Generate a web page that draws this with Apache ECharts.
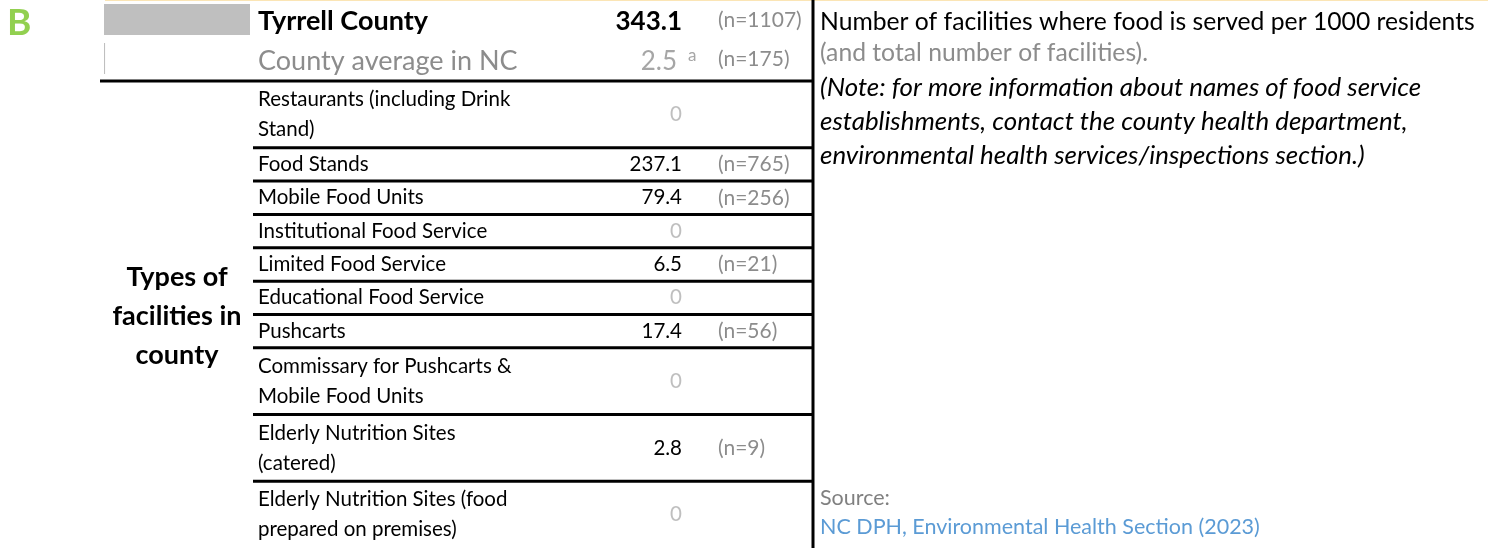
<!DOCTYPE html>
<html>
<head>
<meta charset="utf-8">
<script src="https://cdn.jsdelivr.net/npm/echarts@6/dist/echarts.min.js"></script>
<style>
html,body{margin:0;padding:0;background:#fff;}
#chart{width:1488px;height:548px;}
</style>
</head>
<body>
<div id="chart"></div>
<script>
// 顶部两行：县值 与 全州县平均
var summaryNames = ['Tyrrell County', 'County average in NC'];
var summaryRates = [343.1, 2.5];
var summaryCounts = [1107, 175];

// 设施类型
var typeNames = [
	'Restaurants (including Drink Stand)',
	'Food Stands',
	'Mobile Food Units',
	'Institutional Food Service',
	'Limited Food Service',
	'Educational Food Service',
	'Pushcarts',
	'Commissary for Pushcarts & Mobile Food Units',
	'Elderly Nutrition Sites (catered)',
	'Elderly Nutrition Sites (food prepared on premises)'
];
var typeRates = [0, 237.1, 79.4, 0, 6.5, 0, 17.4, 0, 2.8, 0];
var typeCounts = [null, 765, 256, null, 21, null, 56, null, 9, null];

var FONT = 'Lato, "Noto Sans", sans-serif';
var colLabel = 258, colRate = 682, colCount = 718;
var tableLeft = 253, tableRight = 813;
var typeLines = [2, 1, 1, 1, 1, 1, 1, 2, 2, 2];//每行所占行数

var myChart = echarts.init(document.getElementById('chart'));

var rowData = [];
var acc = 0;
for (var i = 0; i < typeNames.length; i++) {
	rowData.push([acc, acc + typeLines[i], i]);
	acc += typeLines[i];
}

function summaryItem(params, api) {
	var idx = api.value(1);
	var y = api.coord([0, idx])[1];
	var kids = [];
	if (idx === 0) {
		kids.push({type: 'text', style: {x: colLabel, y: y + 2, text: summaryNames[idx], font: 'bold 27px ' + FONT, fill: '#000', verticalAlign: 'middle'}});
		kids.push({type: 'text', style: {x: colRate, y: y + 2, text: summaryRates[idx].toFixed(1), font: 'bold 26px ' + FONT, fill: '#000', align: 'right', verticalAlign: 'middle'}});
	} else {
		kids.push({type: 'text', style: {x: colLabel, y: y + 3, text: summaryNames[idx], font: '27px ' + FONT, fill: '#8c8c8c', verticalAlign: 'middle'}});
		kids.push({type: 'text', style: {x: colRate - 5, y: y + 3, text: summaryRates[idx].toFixed(1), font: '26px ' + FONT, fill: '#a6a6a6', align: 'right', verticalAlign: 'middle'}});
		kids.push({type: 'text', style: {x: 688, y: y - 3, text: 'a', font: '17px ' + FONT, fill: '#a6a6a6', verticalAlign: 'middle'}});
	}
	kids.push({type: 'text', style: {x: colCount, y: y + 1, text: '(n=' + summaryCounts[idx] + ')', font: '21px ' + FONT, fill: '#8c8c8c', verticalAlign: 'middle'}});
	return {type: 'group', children: kids};
}

function tableItem(params, api) {
	var y0 = api.coord([0, api.value(0)])[1];
	var y1 = api.coord([0, api.value(1)])[1];
	var idx = api.value(2);
	var cy = (y0 + y1) / 2;
	var rate = typeRates[idx];
	var kids = [
		{type: 'line', shape: {x1: idx === 0 ? 100 : tableLeft, y1: y0, x2: tableRight, y2: y0}, style: {stroke: '#000', lineWidth: 3}},
		{type: 'text', style: {x: colLabel, y: cy, text: typeNames[idx], width: 268, overflow: 'break', lineHeight: 30, font: '20.5px ' + FONT, fill: '#000', verticalAlign: 'middle'}},
		{type: 'text', style: {x: colRate, y: cy, text: rate === 0 ? '0' : rate.toFixed(1), font: '20.5px ' + FONT, fill: rate === 0 ? '#bfbfbf' : '#000', align: 'right', verticalAlign: 'middle'}}
	];
	if (typeCounts[idx] != null) {
		kids.push({type: 'text', style: {x: colCount, y: cy, text: '(n=' + typeCounts[idx] + ')', font: '21px ' + FONT, fill: '#8c8c8c', verticalAlign: 'middle'}});
	}
	return {type: 'group', children: kids};
}

var option = {
	animation: false,
	grid: [
		{left: 104, top: 0, width: 146, height: 78},
		{left: 0, top: 81, width: 1488, height: 467}
	],
	xAxis: [
		{type: 'value', gridIndex: 0, min: 0, max: 343.1, show: false},
		{type: 'value', gridIndex: 1, min: 0, max: 1488, show: false}
	],
	yAxis: [
		{type: 'category', gridIndex: 0, data: summaryNames, inverse: true, show: false},
		{type: 'value', gridIndex: 1, min: 0, max: acc, inverse: true, show: false}
	],
	series: [
		{
			type: 'bar', xAxisIndex: 0, yAxisIndex: 0, silent: true,
			barWidth: 31,
			itemStyle: {color: '#bfbfbf'},
			data: summaryRates
		},
		{
			type: 'custom', xAxisIndex: 0, yAxisIndex: 0, silent: true, clip: false,
			renderItem: summaryItem,
			encode: {x: 0, y: 1},
			data: summaryRates.map(function (v, i) { return [v, i]; })
		},
		{
			type: 'custom', xAxisIndex: 1, yAxisIndex: 1, silent: true, clip: false,
			renderItem: tableItem,
			encode: {x: 2, y: [0, 1]},
			data: rowData
		}
	],
	graphic: [
		{type: 'rect', shape: {x: 105, y: 0, width: 1383, height: 1}, style: {fill: '#fbe5b5'}},
		{type: 'line', shape: {x1: tableRight, y1: 0, x2: tableRight, y2: 548}, style: {stroke: '#000', lineWidth: 3}},
		{type: 'text', style: {x: 7, y: 23, text: 'B', font: 'bold 37px ' + FONT, fill: '#92d050', verticalAlign: 'middle'}},
		{type: 'text', style: {x: 177, y: 316, text: 'Types of\nfacilities in\ncounty', font: 'bold 27px ' + FONT, lineHeight: 39, fill: '#000', align: 'center', verticalAlign: 'middle'}},
		{type: 'text', style: {x: 820, y: 22, text: 'Number of facilities where food is served per 1000 residents', font: '24.7px ' + FONT, fill: '#000', verticalAlign: 'middle'}},
		{type: 'text', style: {x: 820, y: 53, text: '(and total number of facilities).', font: '24.7px ' + FONT, fill: '#8c8c8c', verticalAlign: 'middle'}},
		{type: 'text', style: {x: 820, y: 122, text: '(Note: for more information about names of food service\nestablishments, contact the county health department,\nenvironmental health services/inspections section.)', font: 'italic 25.9px ' + FONT, lineHeight: 34, fill: '#000', verticalAlign: 'middle'}},
		{type: 'text', style: {x: 820, y: 498, text: 'Source:', font: '21.5px ' + FONT, fill: '#808080', verticalAlign: 'middle'}},
		{type: 'text', style: {x: 820, y: 527, text: 'NC DPH, Environmental Health Section (2023)', font: '21.5px ' + FONT, fill: '#5b9bd5', verticalAlign: 'middle'}}
	]
};
myChart.setOption(option);
</script>
</body>
</html>
